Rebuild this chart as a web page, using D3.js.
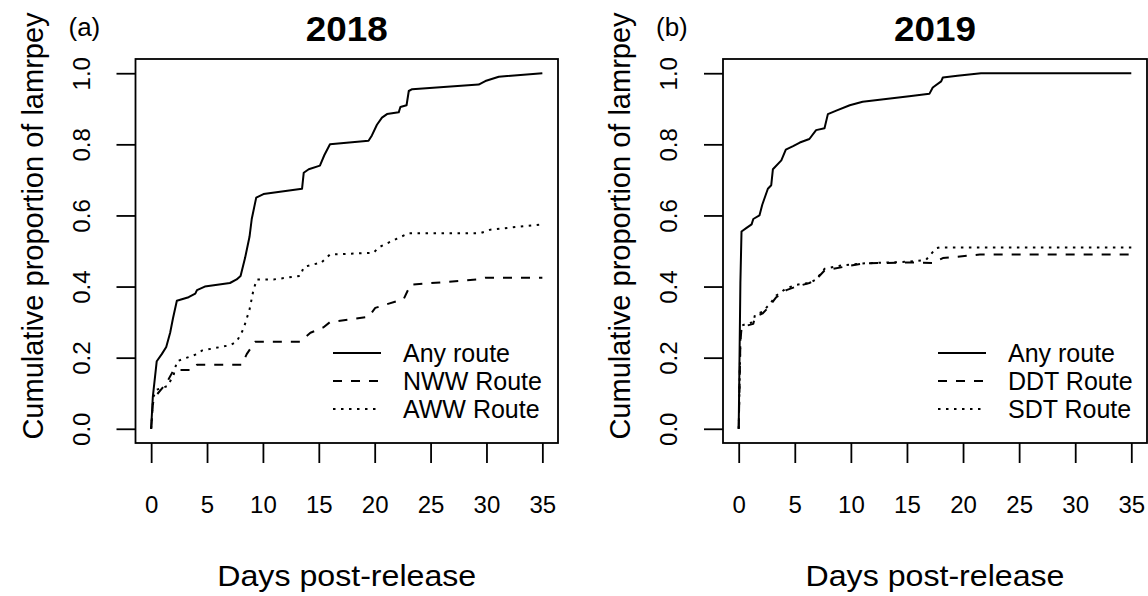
<!DOCTYPE html>
<html><head><meta charset="utf-8">
<script src="https://cdn.jsdelivr.net/npm/d3@7/dist/d3.min.js"></script>
<style>
html,body{margin:0;padding:0;background:#fff;}
svg{display:block;font-family:"Liberation Sans",Arial,Helvetica,sans-serif;}
</style></head>
<body><svg id="chart" width="1148" height="596"></svg>
<script>
// ---- data (days post-release, cumulative proportion) ----
const any2018 = [[0,0],[0.15,0.09],[0.5,0.19],[0.95,0.21],[1.35,0.23],[1.7,0.27],[1.95,0.31],[2.3,0.36],[3.35,0.37],[3.95,0.38],[4.1,0.39],[4.8,0.40],[7.05,0.41],[7.65,0.42],[8.0,0.43],[8.4,0.48],[8.8,0.54],[9.0,0.59],[9.4,0.65],[10.05,0.66],[13.5,0.675],[13.65,0.72],[14.1,0.73],[15.1,0.74],[15.5,0.77],[16.0,0.80],[19.45,0.81],[19.75,0.825],[20.2,0.855],[20.65,0.875],[21.1,0.885],[22.15,0.89],[22.3,0.905],[22.85,0.91],[23.05,0.95],[23.35,0.955],[29.3,0.968],[29.9,0.978],[31.1,0.99],[35,1.0]];
const nww2018 = [[0,0],[0.15,0.07],[0.35,0.09],[1.4,0.13],[2.0,0.165],[3.65,0.165],[4.1,0.18],[8.1,0.18],[8.55,0.21],[9.3,0.245],[13.35,0.245],[14.25,0.27],[15.4,0.285],[16.0,0.30],[19.45,0.315],[20.05,0.34],[22.6,0.365],[23.2,0.405],[29.15,0.42],[29.9,0.425],[35,0.425]];
const aww2018 = [[0,0],[0.2,0.09],[0.5,0.11],[1.45,0.12],[2.0,0.15],[2.3,0.19],[4.1,0.21],[4.55,0.22],[7.05,0.235],[7.65,0.245],[8.25,0.28],[8.8,0.335],[9.15,0.39],[9.45,0.42],[10.95,0.42],[13.35,0.43],[13.65,0.455],[14.85,0.465],[15.15,0.465],[16.0,0.49],[19.9,0.495],[20.35,0.51],[22.0,0.535],[23.05,0.55],[29.45,0.55],[30.35,0.56],[35,0.575]];
const any2019 = [[0,0],[0.15,0.41],[0.25,0.555],[0.7,0.565],[1.15,0.575],[1.3,0.59],[1.85,0.60],[2.1,0.63],[2.6,0.675],[2.9,0.685],[3.05,0.73],[3.8,0.755],[4.2,0.785],[4.85,0.795],[5.45,0.805],[6.3,0.815],[6.9,0.84],[7.65,0.845],[7.95,0.885],[8.7,0.895],[9.9,0.91],[11.05,0.92],[15.2,0.935],[17.0,0.942],[17.3,0.96],[18.05,0.977],[18.2,0.988],[19.5,0.993],[21.6,1.0],[35,1.0]];
const ddt2019 = [[0,0],[0.15,0.24],[0.25,0.285],[0.7,0.29],[1.3,0.295],[1.45,0.315],[2.15,0.325],[2.75,0.345],[3.35,0.37],[4.25,0.39],[5.15,0.40],[6.3,0.41],[6.9,0.42],[7.65,0.445],[9.3,0.455],[11.05,0.465],[15.2,0.468],[17.3,0.466],[18.2,0.48],[21.5,0.49],[35,0.49]];
const sdt2019 = [[0,0],[0.15,0.25],[0.25,0.29],[0.7,0.295],[1.3,0.30],[1.45,0.32],[2.15,0.33],[2.75,0.35],[3.35,0.375],[4.25,0.395],[5.15,0.405],[6.3,0.41],[6.9,0.42],[7.65,0.45],[9.3,0.46],[11.05,0.465],[15.2,0.47],[16.7,0.475],[17.6,0.508],[17.9,0.51],[35,0.51]];

const xTicks = [0,5,10,15,20,25,30,35];
const yTicks = [0,0.2,0.4,0.6,0.8,1.0];
const legend2018 = ["Any route","NWW Route","AWW Route"];
const legend2019 = ["Any route","DDT Route","SDT Route"];
const titles = ["2018","2019"];
const tags = ["(a)","(b)"];
const xLabel = "Days post-release";
const yLabel = "Cumulative proportion of lamrpey";

// ---- layout ----
const svg = d3.select("#chart");
const plotTop = 59, plotBottom = 443;
const dashes = [null, "9 9", "2.5 5.5"];

const panels = [
  {left:135.5, right:558, series:[any2018,nww2018,aww2018], legend:legend2018, legX:333, title:titles[0], tag:tags[0]},
  {left:723, right:1147, series:[any2019,ddt2019,sdt2019], legend:legend2019, legX:938, title:titles[1], tag:tags[1]}
];

panels.forEach(p => {
  const x = d3.scaleLinear().domain([-1.4, 36.4]).range([p.left, p.right]);
  const y = d3.scaleLinear().domain([-0.04, 1.04]).range([plotBottom, plotTop]);
  const g = svg.append("g");

  const line = d3.line().x(d => x(d[0])).y(d => y(d[1]));
  p.series.forEach((s, i) => {
    g.append("path").datum(s).attr("d", line)
      .attr("fill","none").attr("stroke","#000").attr("stroke-width",2)
      .attr("stroke-dasharray", dashes[i]).attr("stroke-linejoin","round");
  });

  g.append("rect").attr("x", p.left).attr("y", plotTop)
    .attr("width", p.right - p.left).attr("height", plotBottom - plotTop)
    .attr("fill","none").attr("stroke","#000").attr("stroke-width",1.8);

  const xa = g.append("g").attr("transform", `translate(0,${plotBottom})`)
    .call(d3.axisBottom(x).tickValues(xTicks).tickSize(20).tickFormat(d3.format("d")));
  xa.select(".domain").remove();
  xa.attr("font-family",null);
  xa.selectAll(".tick line").attr("stroke","#000").attr("stroke-width",1.8);
  xa.selectAll(".tick text").attr("y",70).attr("dy",null)
    .attr("font-size",24).attr("fill","#000");

  const ya = g.append("g").attr("transform", `translate(${p.left},0)`)
    .call(d3.axisLeft(y).tickValues(yTicks).tickSize(19).tickFormat(d3.format(".1f")));
  ya.select(".domain").remove();
  ya.attr("font-family",null);
  ya.selectAll(".tick line").attr("stroke","#000").attr("stroke-width",1.8);
  ya.selectAll(".tick text").attr("x",0).attr("y",-46).attr("dy",null)
    .attr("transform","rotate(-90)").attr("text-anchor","middle")
    .attr("font-size",24).attr("fill","#000");

  const cx = (p.left + p.right) / 2;
  g.append("text").attr("x", cx).attr("y", 41).attr("text-anchor","middle")
    .attr("font-size",35).attr("font-weight","bold").attr("textLength",82)
    .attr("lengthAdjust","spacingAndGlyphs").text(p.title);
  g.append("text").attr("x", p.left - 67).attr("y", 36)
    .attr("font-size",26).text(p.tag);
  g.append("text").attr("x", cx).attr("y", 586).attr("text-anchor","middle")
    .attr("font-size",30).attr("textLength",259).attr("lengthAdjust","spacingAndGlyphs")
    .text(xLabel);
  g.append("text").attr("transform", `translate(${p.left - 93},226) rotate(-90)`)
    .attr("text-anchor","middle").attr("font-size",29).text(yLabel);

  const rows = [353, 381, 409];
  p.legend.forEach((lab, i) => {
    g.append("line").attr("x1", p.legX).attr("x2", p.legX + 48)
      .attr("y1", rows[i]).attr("y2", rows[i])
      .attr("stroke","#000").attr("stroke-width",2).attr("stroke-dasharray", dashes[i]);
    g.append("text").attr("x", p.legX + 70).attr("y", rows[i] + 9)
      .attr("font-size",25).text(lab);
  });
});
</script></body></html>
